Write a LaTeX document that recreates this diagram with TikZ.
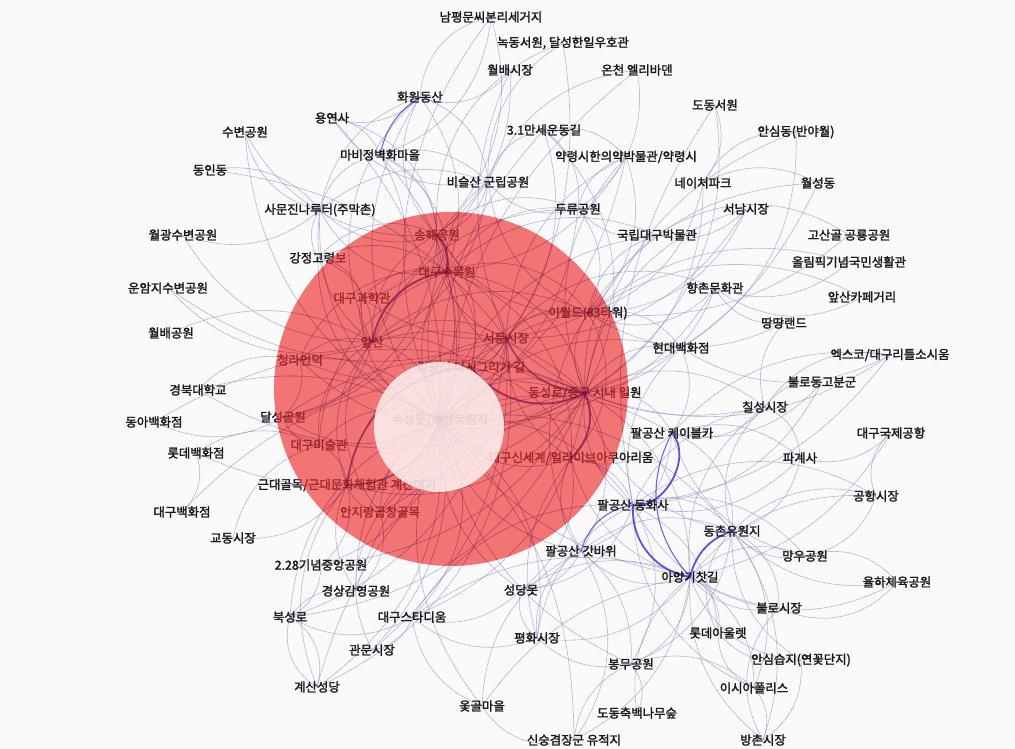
\documentclass[tikz,border=0pt]{standalone}
\usepackage{fontspec}
\newfontfamily\kr{Noto Sans CJK KR}[FakeBold=2]
\pgfdeclarelayer{background}
\pgfdeclarelayer{foreground}
\pgfsetlayers{background,main,foreground}
\definecolor{bgcol}{RGB}{250,250,250}
\definecolor{edgecol}{RGB}{125,125,190}
\definecolor{thickcol}{RGB}{80,50,210}
\definecolor{labelcol}{RGB}{25,25,25}
\definecolor{hotcol}{RGB}{238,48,48}
\definecolor{darkline}{RGB}{110,20,60}
\tikzset{
  lbl/.style={font=\kr\fontsize{12.4}{13}\selectfont, text=labelcol, inner sep=0pt},
  edge/.style={draw=edgecol, line width=0.65pt, opacity=0.5},
  midedge/.style={draw=thickcol, line width=1.1pt, opacity=0.75},
  thickedge/.style={draw=thickcol, line width=1.8pt, opacity=0.85},
  overedge/.style={draw=darkline, line width=0.65pt, opacity=0.27},
  overthick/.style={draw=darkline, line width=1.8pt, opacity=0.35},
}
\def\edgelist{
suseong/namp/20, suseong/nokdong/-18, suseong/oncheon/15, suseong/hwawon/25, suseong/mabi/-20, suseong/biseul/18, suseong/samunjin/22, suseong/songhae/-15, suseong/arboretum/20, suseong/apsan/-25, suseong/eworld/20, suseong/seomun/-20, suseong/dongseong/25, suseong/kimgs/30, suseong/duryu/-18, suseong/museum/22, suseong/yakryeong/-15, suseong/samil/15, suseong/science/25, suseong/cheongna/-20, suseong/dalseong/22, suseong/artmuseum/-25, suseong/anjirang/-20, suseong/shinsegae/-25, suseong/donghwa/20, suseong/gatbawi/-22, suseong/cablecar/18, suseong/ayang/-15, suseong/dongchon/20, suseong/park228/22, suseong/gamyeong/-18, suseong/stadium/25, suseong/seongdang/-20, suseong/pyeonghwa/22, suseong/bongmu/-18, suseong/gyesan/20, suseong/bukseong/-22, suseong/gwanmun/18, suseong/otgol/-20, suseong/hyundai/20, suseong/hyangchon/-22, suseong/gangjeong/25, suseong/yongyeon/-15, suseong/subyeon/20, suseong/knu/-15, suseong/sinsung/15,
dongseong/eworld/20, dongseong/arboretum/-25, dongseong/songhae/25, dongseong/apsan/-20, dongseong/knu/20, dongseong/donga/-18, dongseong/lotteDS/22, dongseong/daeguDS/-20, dongseong/ansimdong/20, dongseong/dodongS/-22, dongseong/hyundai/25, dongseong/hyangchon/-20, dongseong/chilseong/22, dongseong/exco/-18, dongseong/cablecar/25, dongseong/donghwa/-20, dongseong/ayang/20, dongseong/dongchon/-22, dongseong/modern/25, dongseong/anjirang/-20, dongseong/park228/18, dongseong/gamyeong/-22, dongseong/bukseong/20, dongseong/gyesan/-18, dongseong/yakryeong/22, dongseong/samil/-25, dongseong/museum/18, dongseong/nature/-20, dongseong/seonam/22, dongseong/gatbawi/20, dongseong/wolseong/-15, dongseong/cheongna/25, dongseong/dalseong/-20, dongseong/stadium/20,
seomun/kimgs/20, seomun/arboretum/-22, seomun/songhae/25, seomun/apsan/-20, seomun/eworld/22, seomun/modern/-25, seomun/yakryeong/20, seomun/samil/-18, seomun/gyesan/25, seomun/dongin/-15, seomun/unam/18, seomun/seonam/-20, seomun/wolbaeM/15, seomun/bukseong/22, seomun/chilseong/-18, seomun/cheongna/20, seomun/shinsegae/-20, seomun/gwanmun/18, seomun/hyangchon/25,
arboretum/science/-20, arboretum/eworld/25, arboretum/hwawon/-18, arboretum/biseul/20, arboretum/mabi/-22, arboretum/samunjin/25, arboretum/gangjeong/-20, arboretum/duryu/22, arboretum/shinsegae/25, arboretum/artmuseum/-22, arboretum/dalseong/20, arboretum/cheongna/-25, arboretum/kimgs/20, arboretum/yakryeong/-18, arboretum/museum/22, arboretum/anjirang/20,
songhae/biseul/-20, songhae/hwawon/25, songhae/mabi/-22, songhae/samunjin/20, songhae/yongyeon/-25, songhae/subyeon/22, songhae/namp/-20, songhae/nokdong/25, songhae/apsan/-22, songhae/science/20, songhae/gangjeong/-25, songhae/duryu/22, songhae/dalseong/25, songhae/eworld/-20, songhae/kimgs/18, songhae/wolbaeM/-18,
apsan/eworld/22, apsan/cheongna/-20, apsan/dalseong/25, apsan/artmuseum/-22, apsan/wolgwang/20, apsan/wolbaeP/-18, apsan/unam/22, apsan/gangjeong/-25, apsan/samunjin/20, apsan/mabi/-22, apsan/hwawon/25, apsan/biseul/-20, apsan/duryu/22, apsan/anjirang/-25, apsan/kimgs/20, apsan/modern/-20, apsan/science/20,
eworld/duryu/-22, eworld/museum/20, eworld/hyangchon/-25, eworld/hyundai/22, eworld/ttang/-20, eworld/olympic/18, eworld/gosan/-15, eworld/apsancafe/20, eworld/seonam/-22, eworld/wolseong/18, eworld/nature/-20, eworld/shinsegae/25, eworld/kimgs/-22, eworld/science/20, eworld/gatbawi/-20, eworld/biseul/20, eworld/yakryeong/-22,
donghwa/dongchon/25, donghwa/pagye/-20, donghwa/airportM/22, donghwa/bullodong/-20, donghwa/chilseong/18, donghwa/shinsegae/-22, donghwa/bongmu/20, donghwa/pyeonghwa/-18, donghwa/seongdang/22, donghwa/exco/-15, donghwa/hyundai/20, donghwa/stadium/-20, donghwa/mangwoo/22, donghwa/bullo/-18, donghwa/lotteOut/20, donghwa/isia/-22,
cablecar/gatbawi/22, cablecar/pagye/20, cablecar/chilseong/-22, cablecar/dongchon/25, cablecar/hyundai/-20, cablecar/exco/18, cablecar/bullodong/-20, cablecar/shinsegae/22, cablecar/mangwoo/-20,
ayang/mangwoo/22, ayang/bullo/-20, ayang/lotteOut/25, ayang/ansimW/-22, ayang/isia/20, ayang/bangchon/-18, ayang/bongmu/22, ayang/dodongF/-20, ayang/sinsung/18, ayang/otgol/-15, ayang/pyeonghwa/20, ayang/seongdang/-18, ayang/gatbawi/22, ayang/yulha/-20, ayang/airportM/18, ayang/airport/-15, ayang/shinsegae/20, ayang/stadium/-18, ayang/chilseong/20,
dongchon/mangwoo/-20, dongchon/bullo/22, dongchon/yulha/-18, dongchon/airportM/20, dongchon/pagye/-22, dongchon/isia/20, dongchon/lotteOut/-25, dongchon/bangchon/18, dongchon/gatbawi/-20, dongchon/chilseong/22, dongchon/ansimW/-20, dongchon/bongmu/20,
bukseong/gyesan/25, bukseong/gyesan/-25, bukseong/park228/-20, bukseong/gamyeong/22, bukseong/stadium/-20, gyesan/modern/20, gwanmun/stadium/-22, gwanmun/anjirang/20, park228/modern/-22, gamyeong/modern/20, stadium/pyeonghwa/-20, pyeonghwa/seongdang/22, otgol/sinsung/-25, otgol/stadium/20, sinsung/gatbawi/-22, sinsung/bongmu/20, dodongF/bongmu/-22, bangchon/bullo/25, bangchon/ansimW/-20, isia/lotteOut/22, airport/airportM/-25, airport/pagye/20, pagye/chilseong/-22, mangwoo/yulha/22, bullo/yulha/-25, airportM/mangwoo/20, exco/chilseong/-22, exco/hyundai/20, bullodong/chilseong/-20, ttang/hyangchon/22, ttang/chilseong/-20, olympic/hyangchon/20, gosan/museum/-22, apsancafe/hyangchon/22, wolseong/nature/-18, seonam/museum/20, ansimdong/nature/-22, dodongS/nature/20, hwawon/biseul/22, hwawon/samunjin/-20, hwawon/yongyeon/20, yongyeon/biseul/-22, yongyeon/mabi/20, mabi/samunjin/-22, mabi/biseul/20, samunjin/gangjeong/-22, samunjin/biseul/20, gangjeong/science/22, wolgwang/samunjin/-20, dongin/samunjin/20, subyeon/samunjin/-22, samil/yakryeong/20, samil/biseul/-22, samil/duryu/20, yakryeong/duryu/-20, duryu/biseul/22, duryu/museum/-20, lotteDS/artmuseum/20, donga/dalseong/-18, knu/cheongna/20, daeguDS/lotteDS/-22, cheongna/dalseong/20, dalseong/artmuseum/-22, artmuseum/modern/20, modern/anjirang/-20, anjirang/gamyeong/22, gyodong/modern/-20, gyodong/artmuseum/20, namp/hwawon/-25, namp/mabi/22, nokdong/biseul/-20, wolbaeM/hwawon/25, oncheon/biseul/-20, oncheon/duryu/22, dodongS/donghwa/-15, ansimdong/hyundai/20, kimgs/anjirang/22, kimgs/shinsegae/20, shinsegae/gatbawi/-22, shinsegae/seongdang/20, shinsegae/pyeonghwa/-18, gatbawi/seongdang/20, gatbawi/pyeonghwa/-22, gatbawi/bongmu/18, gatbawi/otgol/-20, seongdang/stadium/20, pyeonghwa/bongmu/-18, bongmu/isia/20, lotteOut/ansimW/-20, isia/bangchon/20}
\def\midlist{dongseong/seomun/30, suseong/modern/35, hwawon/mabi/-22, cablecar/ayang/-35, donghwa/gatbawi/-32, kimgs/modern/-40}
\def\thicklist{arboretum/songhae/-25, arboretum/apsan/-35, dongseong/kimgs/40, dongseong/shinsegae/35, donghwa/cablecar/-70, donghwa/ayang/-42, ayang/dongchon/28}
\begin{document}
\begin{tikzpicture}[x=1pt,y=-1pt]
\useasboundingbox (0,0) rectangle (1015,749);

\node[lbl] (namp) at (491,17) {남평문씨본리세거지};
\node[lbl] (nokdong) at (563,43) {녹동서원, 달성한일우호관};
\node[lbl] (wolbaeM) at (510,70) {월배시장};
\node[lbl] (oncheon) at (637,70) {온천 엘리바덴};
\node[lbl] (hwawon) at (420,97) {화원동산};
\node[lbl] (dodongS) at (715,105) {도동서원};
\node[lbl] (yongyeon) at (332,118) {용연사};
\node[lbl] (subyeon) at (245,132) {수변공원};
\node[lbl] (samil) at (544,130) {3.1만세운동길};
\node[lbl] (ansimdong) at (796,132) {안심동(반야월)};
\node[lbl] (mabi) at (380,155) {마비정벽화마을};
\node[lbl] (yakryeong) at (626,157) {약령시한의약박물관/약령시};
\node[lbl] (dongin) at (210,170) {동인동};
\node[lbl] (nature) at (703,183) {네이처파크};
\node[lbl] (wolseong) at (818,183) {월성동};
\node[lbl] (biseul) at (488,182) {비슬산 군립공원};
\node[lbl] (seonam) at (746,209) {서남시장};
\node[lbl] (samunjin) at (320,210) {사문진나루터(주막촌)};
\node[lbl] (duryu) at (578,209) {두류공원};
\node[lbl] (wolgwang) at (183,235) {월광수변공원};
\node[lbl] (songhae) at (437,235) {송해공원};
\node[lbl] (museum) at (657,235) {국립대구박물관};
\node[lbl] (gosan) at (849,235) {고산골 공룡공원};
\node[lbl] (gangjeong) at (318,258) {강정고령보};
\node[lbl] (olympic) at (849,262) {올림픽기념국민생활관};
\node[lbl] (arboretum) at (447,272) {대구수목원};
\node[lbl] (unam) at (168,288) {운암지수변공원};
\node[lbl] (hyangchon) at (715,288) {향촌문화관};
\node[lbl] (science) at (362,298) {대구과학관};
\node[lbl] (apsancafe) at (862,297) {앞산카페거리};
\node[lbl] (eworld) at (588,313) {이월드(83타워)};
\node[lbl] (ttang) at (784,323) {땅땅랜드};
\node[lbl] (wolbaeP) at (171,333) {월배공원};
\node[lbl] (seomun) at (506,338) {서문시장};
\node[lbl] (apsan) at (372,342) {앞산};
\node[lbl] (hyundai) at (681,348) {현대백화점};
\node[lbl] (exco) at (890,355) {엑스코/대구리틀소시움};
\node[lbl] (cheongna) at (300,360) {청라언덕};
\node[lbl] (kimgs) at (471,367) {김광석 다시그리기 길};
\node[lbl] (bullodong) at (822,382) {불로동고분군};
\node[lbl] (knu) at (198,390) {경북대학교};
\node[lbl] (dongseong) at (585,393) {동성로/중구 시내 일원};
\node[lbl] (chilseong) at (765,407) {칠성시장};
\node[lbl] (dalseong) at (283,417) {달성공원};
\node[lbl] (suseong) at (440,420) {수성못/수성유원지};
\node[lbl] (donga) at (154,422) {동아백화점};
\node[lbl] (cablecar) at (672,433) {팔공산 케이블카};
\node[lbl] (airport) at (891,433) {대구국제공항};
\node[lbl] (artmuseum) at (319,445) {대구미술관};
\node[lbl] (lotteDS) at (196,453) {롯데백화점};
\node[lbl] (shinsegae) at (571,458) {대구신세계/얼라이브아쿠아리움};
\node[lbl] (pagye) at (800,458) {파계사};
\node[lbl] (modern) at (347,485) {근대골목/근대문화체험관 계산예가};
\node[lbl] (airportM) at (876,496) {공항시장};
\node[lbl] (donghwa) at (633,505) {팔공산 동화사};
\node[lbl] (daeguDS) at (182,512) {대구백화점};
\node[lbl] (anjirang) at (380,512) {안지랑곱창골목};
\node[lbl] (dongchon) at (732,531) {동촌유원지};
\node[lbl] (gyodong) at (233,538) {교동시장};
\node[lbl] (gatbawi) at (581,551) {팔공산 갓바위};
\node[lbl] (mangwoo) at (805,556) {망우공원};
\node[lbl] (park228) at (321,565) {2.28기념중앙공원};
\node[lbl] (ayang) at (690,577) {아양기찻길};
\node[lbl] (yulha) at (897,582) {율하체육공원};
\node[lbl] (seongdang) at (521,590) {성당못};
\node[lbl] (gamyeong) at (356,591) {경상감영공원};
\node[lbl] (bullo) at (779,608) {불로시장};
\node[lbl] (bukseong) at (290,617) {북성로};
\node[lbl] (stadium) at (412,617) {대구스타디움};
\node[lbl] (pyeonghwa) at (537,638) {평화시장};
\node[lbl] (lotteOut) at (718,633) {롯데아울렛};
\node[lbl] (gwanmun) at (372,650) {관문시장};
\node[lbl] (ansimW) at (801,660) {안심습지(연꽃단지)};
\node[lbl] (bongmu) at (631,664) {봉무공원};
\node[lbl] (gyesan) at (317,687) {계산성당};
\node[lbl] (isia) at (754,688) {이시아폴리스};
\node[lbl] (otgol) at (482,706) {옻골마을};
\node[lbl] (dodongF) at (637,713) {도동축백나무숲};
\node[lbl] (sinsung) at (574,740) {신숭겸장군 유적지};
\node[lbl] (bangchon) at (763,740) {방촌시장};

\begin{pgfonlayer}{background}
\fill[bgcol] (0,0) rectangle (1015,749);
\foreach \a/\b/\c in \edgelist {
  \pgfmathsetmacro\bb{1.5*\c}
  \draw[edge] (\a.center) to[bend left=\bb] (\b.center);
}
\foreach \a/\b/\c in \midlist {
  \draw[midedge] (\a.center) to[bend left=\c] (\b.center);
}
\foreach \a/\b/\c in \thicklist {
  \draw[thickedge] (\a.center) to[bend left=\c] (\b.center);
}
\end{pgfonlayer}

\begin{pgfonlayer}{foreground}
\fill[hotcol, opacity=0.66] (451,389) circle[radius=177];
\begin{scope}
\clip (451,389) circle[radius=177];
\foreach \a/\b/\c in \edgelist {
  \pgfmathsetmacro\bb{1.5*\c}
  \draw[overedge] (\a.center) to[bend left=\bb] (\b.center);
}
\foreach \a/\b/\c in \midlist {
  \draw[overthick] (\a.center) to[bend left=\c] (\b.center);
}
\foreach \a/\b/\c in \thicklist {
  \draw[overthick] (\a.center) to[bend left=\c] (\b.center);
}
\end{scope}
\fill[white, opacity=0.78] (439,427) circle[radius=65];
\end{pgfonlayer}
\end{tikzpicture}
\end{document}
